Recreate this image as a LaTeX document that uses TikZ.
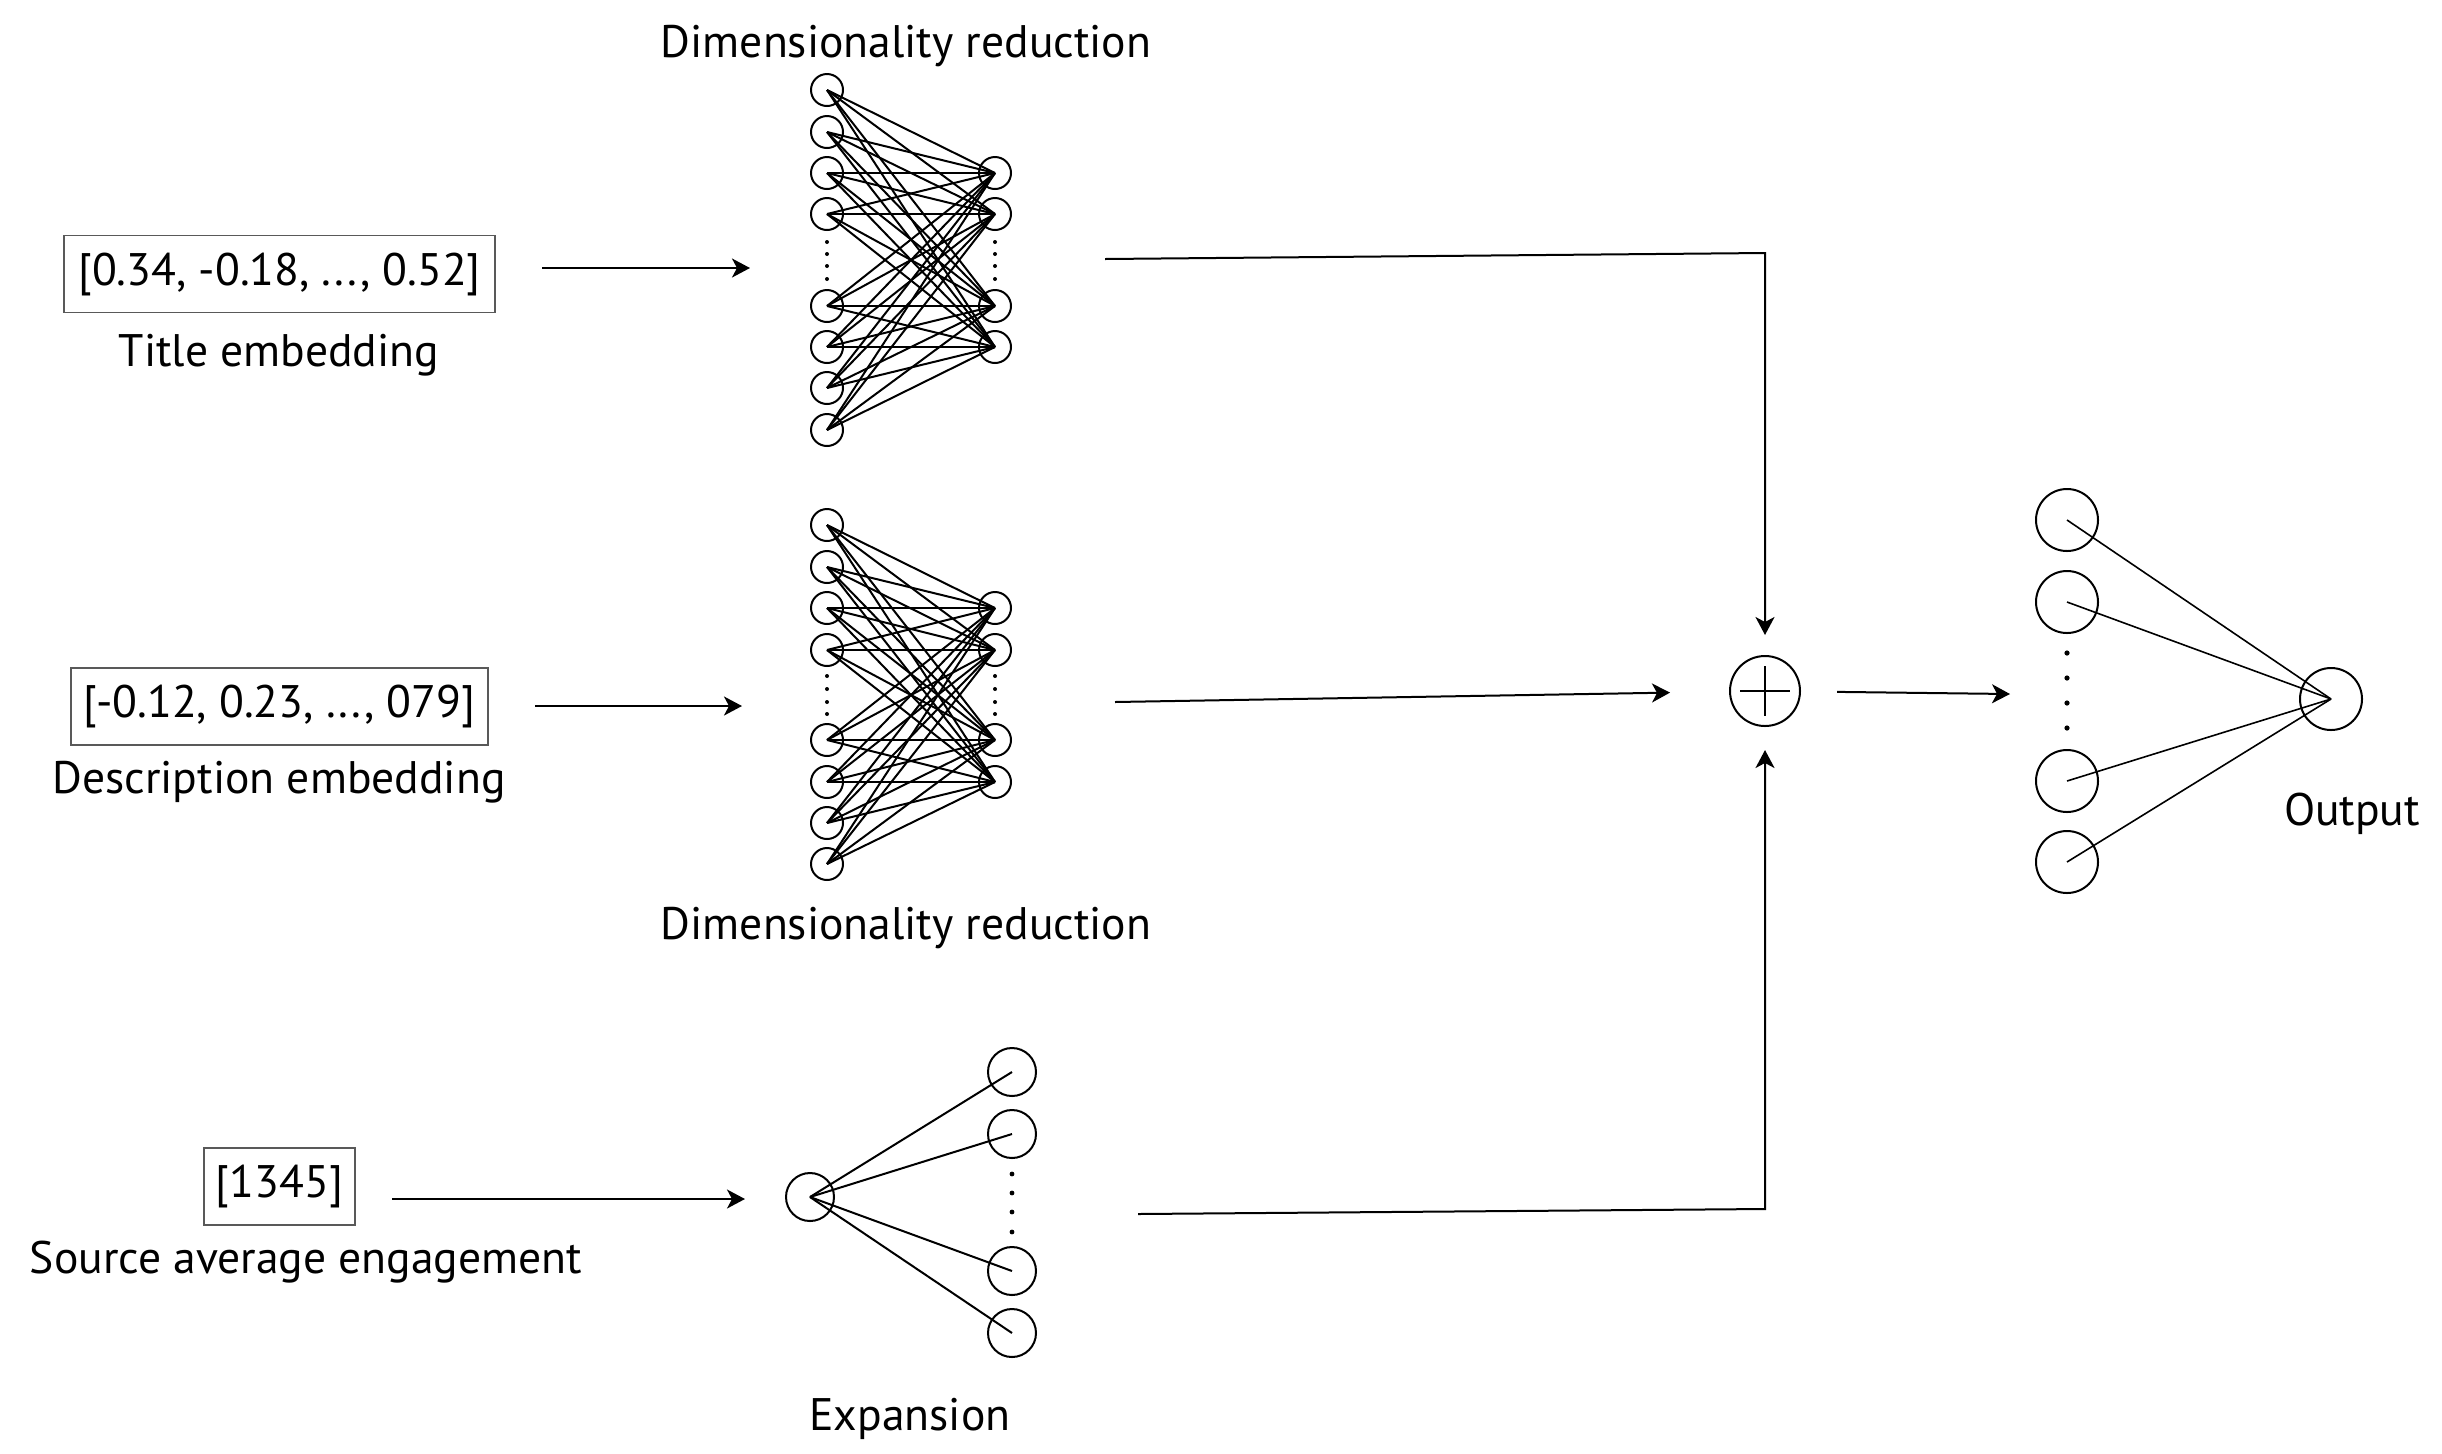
\documentclass[tikz,border=0pt]{standalone}
\usepackage{fontspec}
\setmainfont{PT Sans}
\usetikzlibrary{arrows.meta}

\tikzset{every picture/.style={line width=1pt}}
\tikzset{
  unit/.style={draw, circle, inner sep=0pt, minimum size=16pt},
  bigunit/.style={draw, circle, inner sep=0pt, minimum size=24pt},
  outunit/.style={draw, circle, inner sep=0pt, minimum size=31pt},
  vecbox/.style={draw=black!65, line width=0.7pt, inner sep=0pt, minimum height=38.5pt, font=\fontsize{22.8}{27}\selectfont},
  lbl/.style={anchor=base, inner sep=0pt, font=\fontsize{22.8}{27}\selectfont},
  flow/.style={-{Stealth[length=9pt,width=9.5pt,inset=2.5pt]}},
}

\begin{document}
\begin{tikzpicture}[x=0.5pt,y=0.5pt,yscale=-1,xscale=1]
\useasboundingbox (0,0) rectangle (2442,1453);

%Inputs
\node[vecbox, minimum width=215.5pt] (titlebox) at (279.5,274) {[0.34, -0.18, ..., 0.52]};
\node[lbl] (titlelbl) at (279,366) {Title embedding};
\node[vecbox, minimum width=208.5pt] (descbox) at (279.5,706.5) {[-0.12, 0.23, ..., 079]};
\node[lbl] (desclbl) at (279,793) {Description embedding};
\node[vecbox, minimum width=75.5pt] (srcbox) at (279.5,1186.5) {[1345]};
\node[lbl] (srclbl) at (306,1273) {Source average engagement};

%Title network
\node[lbl] (dimtop) at (906,57) {Dimensionality reduction};
\foreach \y [count=\i] in {90,132,173,214,306,347,388,430}
  \node[unit] (ta\i) at (827,\y) {};
\foreach \y [count=\j] in {173,214,306,347}
  \node[unit] (tb\j) at (995,\y) {};
\foreach \i in {1,...,8}
  \foreach \j in {1,...,4}
    \draw (ta\i.center) -- (tb\j.center);
\foreach \y in {242,254,266,279} {
  \fill (827,\y) circle (1pt);
  \fill (995,\y) circle (1pt);
}

%Description network
\node[lbl] (dimbot) at (906,939) {Dimensionality reduction};
\foreach \y [count=\i] in {525,567,608,650,740,782,823,864}
  \node[unit] (da\i) at (827,\y) {};
\foreach \y [count=\j] in {608,650,740,782}
  \node[unit] (db\j) at (995,\y) {};
\foreach \i in {1,...,8}
  \foreach \j in {1,...,4}
    \draw (da\i.center) -- (db\j.center);
\foreach \y in {676,689,702,714} {
  \fill (827,\y) circle (1pt);
  \fill (995,\y) circle (1pt);
}

%Expansion network
\node[bigunit] (ea) at (810,1197) {};
\foreach \y [count=\j] in {1072,1134,1271,1333}
  \node[bigunit] (eb\j) at (1012,\y) {};
\foreach \j in {1,...,4}
  \draw (ea.center) -- (eb\j.center);
\foreach \y in {1174,1193,1212,1232}
  \fill (1012,\y) circle (1.2pt);
\node[lbl] (explbl) at (910,1430) {Expansion};

%Sum
\node[draw, circle, inner sep=0pt, minimum size=35pt] (plus) at (1765,691) {};
\draw ([xshift=-12.5pt]plus.center) -- ([xshift=12.5pt]plus.center);
\draw ([yshift=-12.5pt]plus.center) -- ([yshift=12.5pt]plus.center);

%Output network
\foreach \y [count=\i] in {520,602,781,862}
  \node[outunit] (oa\i) at (2067,\y) {};
\node[outunit] (out) at (2331,699) {};
\foreach \i in {1,...,4}
  \draw[line width=0.8pt] (oa\i.center) -- (out.center);
\foreach \y in {653,678,703,728}
  \fill (2067,\y) circle (1.3pt);
\node[lbl] (outlbl) at (2352,825) {Output};

%Arrows
\coordinate (titleS) at (542,268);
\coordinate (titleE) at (750,268);
\coordinate (descS) at (535,706);
\coordinate (descE) at (742,706);
\coordinate (srcS) at (392,1199);
\coordinate (srcE) at (745,1199);
\draw[flow] (titleS) -- (titleE);
\draw[flow] (descS) -- (descE);
\draw[flow] (srcS) -- (srcE);

\coordinate (tout) at (1105,259);
\coordinate (tcorner) at (1765,253);
\coordinate (dout) at (1115,702);
\coordinate (eout) at (1138,1214);
\coordinate (ecorner) at (1765,1209);
\coordinate (oin) at (2010,694);
\draw[flow, shorten >=10pt] (tout) -- (tcorner) -- (plus);
\draw[flow, shorten >=29.5pt] (dout) -- (plus);
\draw[flow, shorten >=11.5pt] (eout) -- (ecorner) -- (plus);
\draw[flow, shorten <=18pt] (plus) -- (oin);

\end{tikzpicture}
\end{document}
